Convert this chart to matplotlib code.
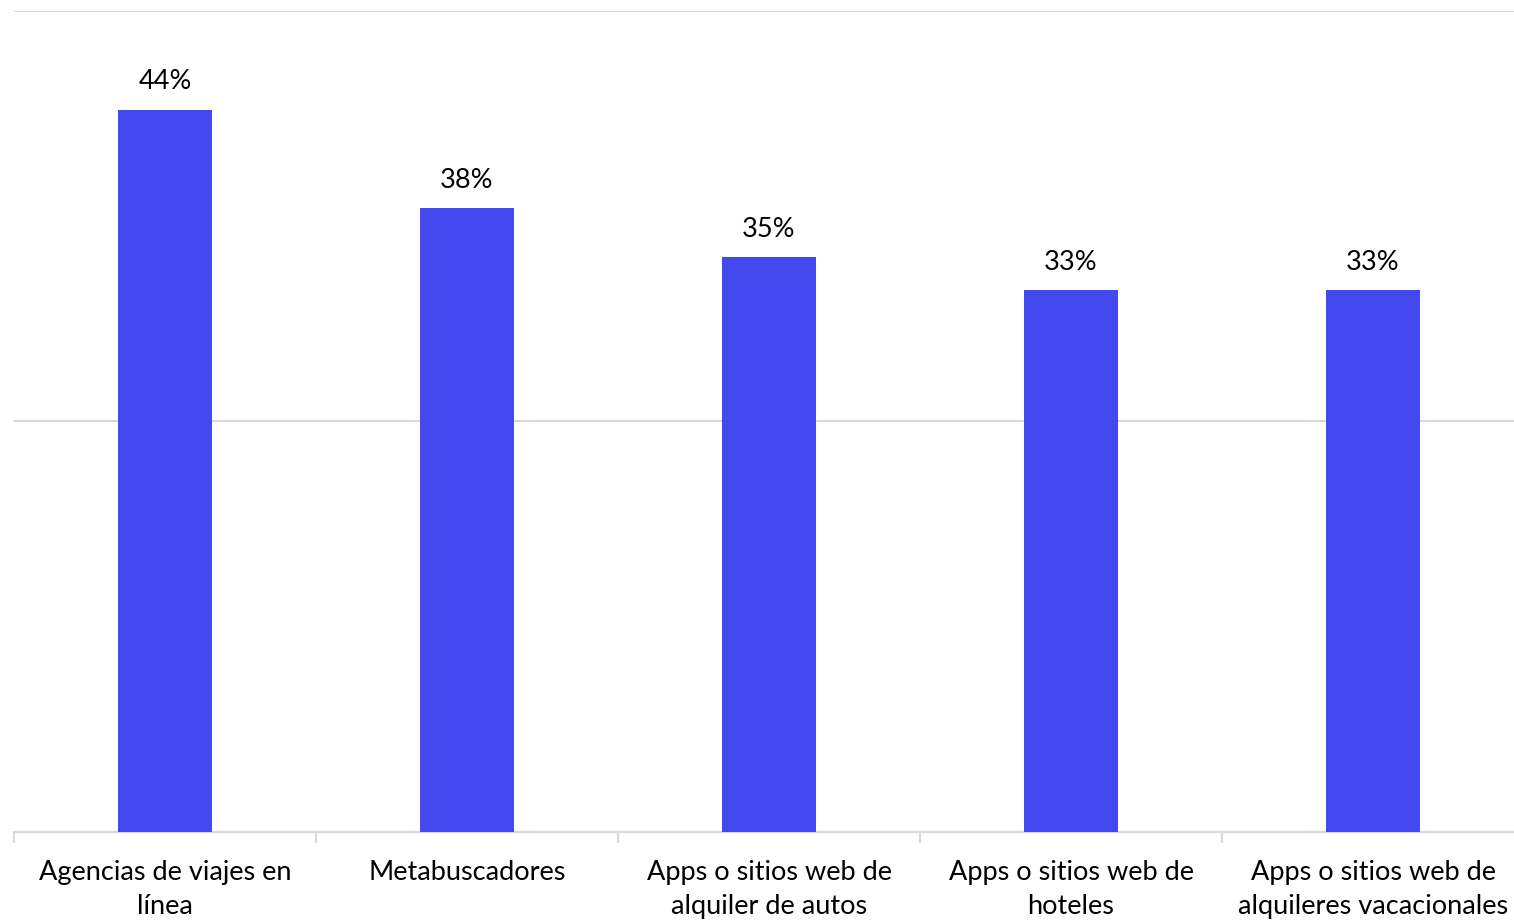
import matplotlib.pyplot as plt
from matplotlib.ticker import FixedLocator, NullFormatter

categories = [
    "Agencias de viajes en\nlínea",
    "Metabuscadores",
    "Apps o sitios web de\nalquiler de autos",
    "Apps o sitios web de\nhoteles",
    "Apps o sitios web de\nalquileres vacacionales",
]
shares = [44, 38, 35, 33, 33]

plt.rcParams['font.family'] = ['Lato', 'DejaVu Sans']

fig = plt.figure(figsize=(15.14, 9.21), dpi=100)
ax = fig.add_axes([14 / 1514, 89 / 921, 1510 / 1514, 821 / 921])

x = range(len(categories))
bars = ax.bar(x, shares, width=0.31, color='#4349EE', zorder=3)

for b, v in zip(bars, shares):
    ax.annotate("%d%%" % v, (b.get_x() + b.get_width() / 2, v),
                xytext=(0, 11), textcoords='offset points',
                ha='center', va='bottom', fontsize=19.5, color='black')

ax.set_xlim(-0.5, len(categories) - 0.5)
ax.set_ylim(0, 50)
ax.set_yticks([0, 25, 50])
ax.yaxis.set_major_formatter(NullFormatter())
ax.tick_params(axis='y', length=0)
ax.grid(axis='y', color='#D9D9D9', linewidth=1.5, zorder=0)

# category labels centred under bars, boundary ticks between them
ax.set_xticks(list(x))
ax.set_xticklabels(categories, fontsize=19.5, linespacing=1.45)
ax.tick_params(axis='x', which='major', length=0, pad=20)
ax.xaxis.set_minor_locator(FixedLocator([i - 0.5 for i in range(len(categories) + 1)]))
ax.tick_params(axis='x', which='minor', length=8, width=1.5, color='#D9D9D9')

for side in ['top', 'right', 'left']:
    ax.spines[side].set_visible(False)
ax.spines['bottom'].set_color('#D9D9D9')
ax.spines['bottom'].set_linewidth(1.5)

fig.savefig('out.png', dpi=100)
